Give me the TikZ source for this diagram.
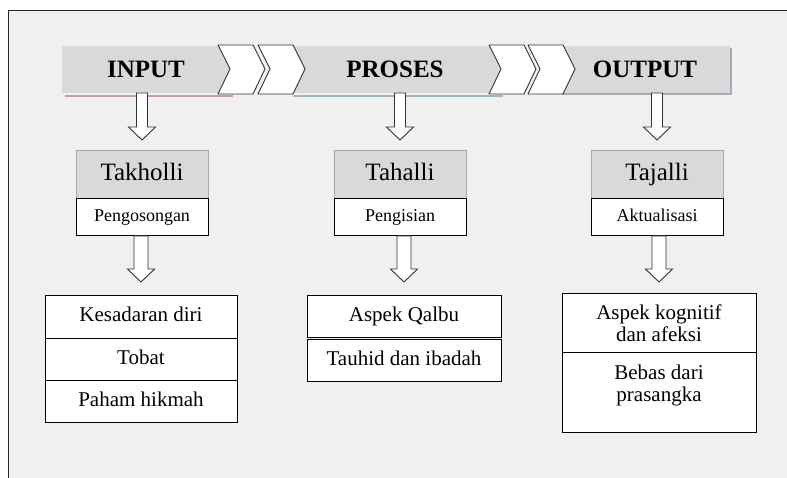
\documentclass[tikz,border=0pt]{standalone}
\usepackage{fontspec}
\setmainfont{Liberation Serif}
\usepackage{tikz}
\usetikzlibrary{calc, positioning, shadows}

% hollow block arrow: from, to, half shaft width, gap above target
\newcommand{\blockarrow}[4]{%
  \filldraw[blockarr] let \p1=(#1.south), \p2=(#2.north) in
    (\x2-#3pt,\y1) -- (\x2-#3pt,\y2+#4pt+13pt) -- (\x2-13.5pt,\y2+#4pt+13pt)
    -- (\x2,\y2+#4pt) -- (\x2+13.5pt,\y2+#4pt+13pt) -- (\x2+#3pt,\y2+#4pt+13pt)
    -- (\x2+#3pt,\y1) -- cycle;}

\begin{document}
\begin{tikzpicture}[x=1pt, y=-1pt,
    banner/.style={fill=bannergray, minimum height=47pt, outer sep=0pt, inner sep=0pt,
      font=\fontsize{25}{28}\selectfont\bfseries},
    chevron/.style={fill=white, draw=black!80, line width=0.9pt, line join=round},
    blockarr/.style={fill=white, draw=black!80, line width=0.9pt},
    header/.style={fill=bannergray, draw=headgray, line width=1pt, minimum width=132pt,
      minimum height=48pt, outer sep=0pt, text height=17pt, text depth=5pt,
      font=\fontsize{25}{28}\selectfont},
    subbox/.style={fill=white, draw=black, line width=1pt, minimum width=132pt,
      minimum height=37pt, outer sep=0pt, text height=12.5pt, text depth=4pt,
      font=\fontsize{18}{20}\selectfont},
    itembox/.style={fill=white, draw=black, line width=1pt, minimum width=194pt,
      outer sep=0pt, align=center, font=\fontsize{21}{22}\selectfont},
    oneline/.style={text height=14.5pt, text depth=4.5pt}]
    \definecolor{bggray}{RGB}{240, 240, 240}
    \definecolor{bannergray}{RGB}{217, 217, 217}
    \definecolor{headgray}{RGB}{166, 166, 166}
    \definecolor{inred}{RGB}{196, 160, 160}
    \definecolor{prosblue}{RGB}{160, 182, 194}
    \definecolor{shadowgray}{RGB}{168, 168, 184}

    \useasboundingbox (0,0) rectangle (787,478);
    \fill[white] (0,0) rectangle (787,478);
    \fill[bggray] (8,11) rectangle (787,478);
    \draw[line width=1pt, black!85] (8,478) -- (8,11) -- (787,11);

    % banners
    \node[banner, minimum width=168pt] (input) at (146,69.5) {INPUT};
    \node[banner, minimum width=210pt] (proses) at (395,69.5) {PROSES};
    \node[banner, minimum width=170pt, drop shadow={shadow xshift=2pt, shadow yshift=-2pt,
      fill=shadowgray, opacity=1}] (output) at (645,69.5) {OUTPUT};
    \draw[inred, line width=2pt] ([xshift=3pt,yshift=-3pt]input.south west)
      -- ([xshift=3pt,yshift=-3pt]input.south east);
    \draw[prosblue, line width=2pt] ([xshift=3pt,yshift=-3pt]proses.south west)
      -- ([xshift=3pt,yshift=-3pt]proses.south east);

    \foreach \cx in {218, 258, 489, 528}
        \filldraw[chevron] (\cx,45) -- ++(35,0) -- ++(12,24) -- ++(-12,25)
          -- ++(-35,0) -- ++(12,-25) -- cycle;

    % stages
    \node[header] (takholli) at (142,175) {Takholli};
    \node[subbox, below=0pt of takholli] (peng) {Pengosongan};
    \node[header] (tahalli) at (400,175) {Tahalli};
    \node[subbox, below=0pt of tahalli] (pengisian) {Pengisian};
    \node[header] (tajalli) at (657,175) {Tajalli};
    \node[subbox, below=0pt of tajalli] (aktual) {Aktualisasi};

    % lists
    \node[itembox, oneline, minimum width=192pt, minimum height=42pt] (kesadaran) at (141,317) {Kesadaran diri};
    \node[itembox, oneline, minimum width=192pt, minimum height=42pt, below=0pt of kesadaran] (tobat) {Tobat};
    \node[itembox, oneline, minimum width=192pt, minimum height=42pt, below=0pt of tobat] (paham) {Paham hikmah};

    \node[itembox, oneline, minimum height=41pt] (qalbu) at (404,316.5) {Aspek Qalbu};
    \node[itembox, oneline, minimum height=42pt, below=2pt of qalbu] (tauhid) {Tauhid dan ibadah};

    \node[itembox, minimum height=58pt] (kognitif) at (659,323) {Aspek kognitif\\dan afeksi};
    \node[itembox, minimum height=80pt, text depth=17pt, below=0pt of kognitif] (bebas) {Bebas dari\\prasangka};

    \blockarrow{input}{takholli}{5.5}{11}
    \blockarrow{proses}{tahalli}{5.5}{11}
    \blockarrow{output}{tajalli}{5.5}{11}
    \blockarrow{peng}{kesadaran}{7}{14}
    \blockarrow{pengisian}{qalbu}{7}{14}
    \blockarrow{aktual}{kognitif}{7}{12}
\end{tikzpicture}
\end{document}
